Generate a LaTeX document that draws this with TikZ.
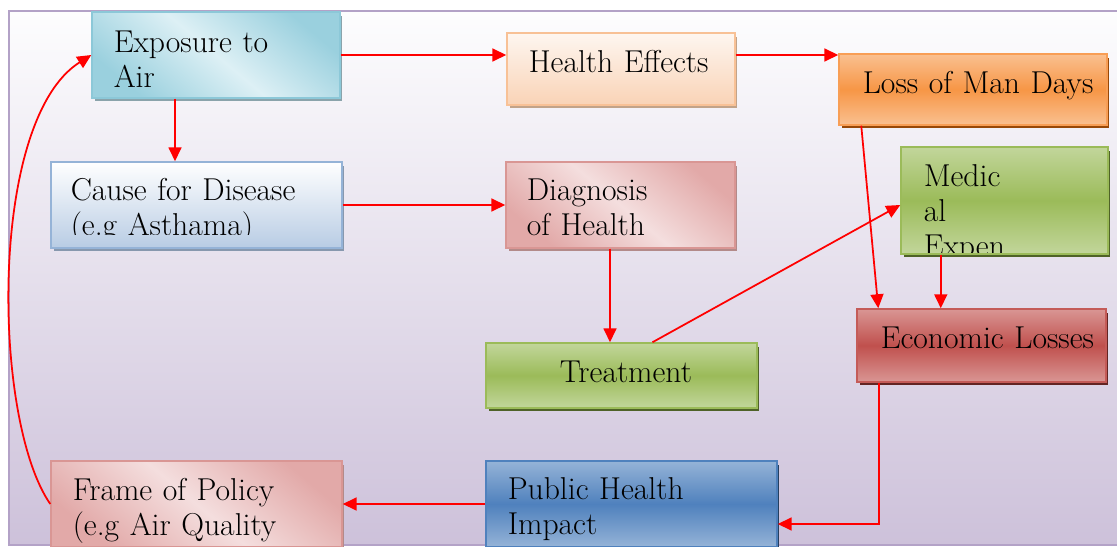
\documentclass[tikz,border=0pt]{standalone}
\usepackage{xcolor}
\definecolor{frameLine}{HTML}{B3A2C7}
\definecolor{bgTop}{HTML}{FDFDFE}
\definecolor{bgBottom}{HTML}{CDC1DA}
\definecolor{tealDark}{HTML}{9AD0DE}
\definecolor{tealLight}{HTML}{DDF0F5}
\definecolor{tealEdge}{HTML}{8CC8D8}
\definecolor{tealShadow}{HTML}{8AA3AB}
\definecolor{peachLight}{HTML}{FEF6F0}
\definecolor{peachDark}{HTML}{F9D3B6}
\definecolor{peachEdge}{HTML}{F8C196}
\definecolor{peachShadow}{HTML}{C2A389}
\definecolor{orangeLight}{HTML}{FAC090}
\definecolor{orangeMid}{HTML}{F79646}
\definecolor{orangeShadow}{HTML}{984807}
\definecolor{skyLight}{HTML}{FFFFFF}
\definecolor{skyDark}{HTML}{B8CCE4}
\definecolor{skyEdge}{HTML}{95B3D7}
\definecolor{skyShadow}{HTML}{8798AE}
\definecolor{pinkLight}{HTML}{F4DEDE}
\definecolor{pinkDark}{HTML}{E2A9A8}
\definecolor{pinkEdge}{HTML}{D99694}
\definecolor{pinkShadow}{HTML}{B38A89}
\definecolor{greenLight}{HTML}{C2D69B}
\definecolor{greenMid}{HTML}{9BBB59}
\definecolor{greenShadow}{HTML}{4F6228}
\definecolor{redLight}{HTML}{D99694}
\definecolor{redMid}{HTML}{C0504D}
\definecolor{redShadow}{HTML}{632523}
\definecolor{navyLight}{HTML}{95B3D7}
\definecolor{navyMid}{HTML}{4F81BD}
\definecolor{navyShadow}{HTML}{243F60}
\definecolor{arrowRed}{HTML}{FF0000}
\usetikzlibrary{arrows.meta,shadows}

\newcommand{\boxfont}{\fontsize{18}{20}\selectfont}

\tikzset{
  flowbox/.style={line width=0.03cm, inner sep=0pt},
  boxlabel/.style n args={4}{path picture={
      \clip ([yshift=#3*0.02cm]path picture bounding box.south west)
            rectangle (path picture bounding box.north east);
      \node[anchor=base west, inner sep=0pt, text width=8cm, align=left]
        at ([xshift=#1*0.02cm, yshift=-#2*0.02cm]path picture bounding box.north west) {#4};}},
  boxshadow/.style={drop shadow={shadow xshift=0.05cm, shadow yshift=-0.07cm,
      fill=#1, opacity=1}},
  flow/.style={-{Triangle[length=2.8mm, width=2.6mm]}, draw=arrowRed, line width=1pt},
}

\begin{document}
\begin{tikzpicture}[x=0.02cm, y=-0.02cm, every node/.style={font=\boxfont}]
  \useasboundingbox (0,0) rectangle (1117,547);
  \clip (0,0) rectangle (1117,547);
  \fill[white] (0,0) rectangle (1117,547);

  % Frame
  \shadedraw[top color=bgTop, bottom color=bgBottom, draw=frameLine, line width=0.04cm]
    (9,11) rectangle (1140,545);

  % Top row
  \node[flowbox, boxshadow=tealShadow, draw=tealEdge,
        top color=tealDark, bottom color=tealDark, middle color=tealLight, shading angle=-40,
        minimum width=4.96cm, minimum height=1.72cm,
        boxlabel={21}{40}{0}{Exposure to\\Air}] (expo) at (216,55) {};
  \node[flowbox, boxshadow=peachShadow, draw=peachEdge,
        top color=peachLight, bottom color=peachDark,
        minimum width=4.56cm, minimum height=1.44cm,
        boxlabel={21}{39}{0}{Health Effects}] (health) at (621,69) {};
  \node[flowbox, boxshadow=orangeShadow, draw=orangeMid!80!orangeLight,
        top color=orangeLight, bottom color=orangeLight, middle color=orangeMid,
        minimum width=5.36cm, minimum height=1.42cm,
        boxlabel={23}{39}{0}{Loss of Man Days}] (loss) at (973,89.5) {};

  % Second row
  \node[flowbox, boxshadow=skyShadow, draw=skyEdge,
        top color=skyLight, bottom color=skyDark,
        minimum width=5.82cm, minimum height=1.72cm,
        boxlabel={19}{38}{13}{Cause for Disease\\(e.g Asthama)}] (cause) at (196.5,205) {};
  \node[flowbox, boxshadow=pinkShadow, draw=pinkEdge,
        top color=pinkDark, bottom color=pinkDark, middle color=pinkLight, shading angle=-40,
        minimum width=4.58cm, minimum height=1.72cm,
        boxlabel={20}{38}{0}{Diagnosis\\of Health}] (diag) at (620.5,205) {};
  \node[flowbox, boxshadow=greenShadow, draw=greenMid,
        top color=greenLight, bottom color=greenLight, middle color=greenMid,
        minimum width=4.14cm, minimum height=2.14cm,
        boxlabel={22}{39}{0}{Medic\\al\\Expen}] (medic) at (1004.5,200.5) {};

  % Middle row
  \node[flowbox, boxshadow=greenShadow, draw=greenMid,
        top color=greenLight, bottom color=greenLight, middle color=greenMid,
        minimum width=5.42cm, minimum height=1.30cm,
        boxlabel={73}{39}{0}{Treatment}] (treat) at (621.5,375.5) {};
  \node[flowbox, boxshadow=redShadow, draw=redMid!85!redLight,
        top color=redLight, bottom color=redLight, middle color=redMid,
        minimum width=4.98cm, minimum height=1.46cm,
        boxlabel={23}{39}{0}{Economic Losses}] (econ) at (981.5,345.5) {};

  % Bottom row
  \node[flowbox, boxshadow=pinkShadow, draw=pinkEdge,
        top color=pinkDark, bottom color=pinkDark, middle color=pinkLight, shading angle=-40,
        minimum width=5.82cm, minimum height=1.72cm,
        boxlabel={21}{39}{0}{Frame of Policy\\(e.g Air Quality}] (policy) at (196.5,504) {};
  \node[flowbox, boxshadow=navyShadow, draw=navyMid,
        top color=navyLight, bottom color=navyLight, middle color=navyMid,
        minimum width=5.82cm, minimum height=1.72cm,
        boxlabel={21}{38}{0}{Public Health\\Impact}] (public) at (631.5,504) {};

  % Links
  \draw[flow] (expo.east) -- (expo.east -| health.west);
  \draw[flow] (expo.east -| health.east) -- (expo.east -| loss.west);
  \draw[flow] ([xshift=-0.82cm]expo.south) -- ([xshift=-0.82cm]expo.south |- cause.north);
  \draw[flow] (cause.east) -- (diag.west);
  \draw[flow] ([xshift=-0.21cm]diag.south) -- ([xshift=-0.21cm]diag.south |- treat.north);
  \draw[flow] ([xshift=0.62cm]treat.north) -- ([yshift=-0.09cm]medic.west);
  \draw[flow] ([xshift=0.46cm]loss.south west) -- ([xshift=0.44cm]econ.north west);
  \draw[flow] ([xshift=0.81cm]medic.south west) -- ([xshift=0.81cm]medic.south west |- econ.north);
  \draw[flow] ([xshift=0.45cm]econ.south west) |- ([yshift=-0.4cm]public.east);
  \draw[flow] (public.west) -- (policy.east);
  \draw[flow] (policy.west) .. controls (-8,420) and (-12,120) .. (expo.west);
\end{tikzpicture}
\end{document}
